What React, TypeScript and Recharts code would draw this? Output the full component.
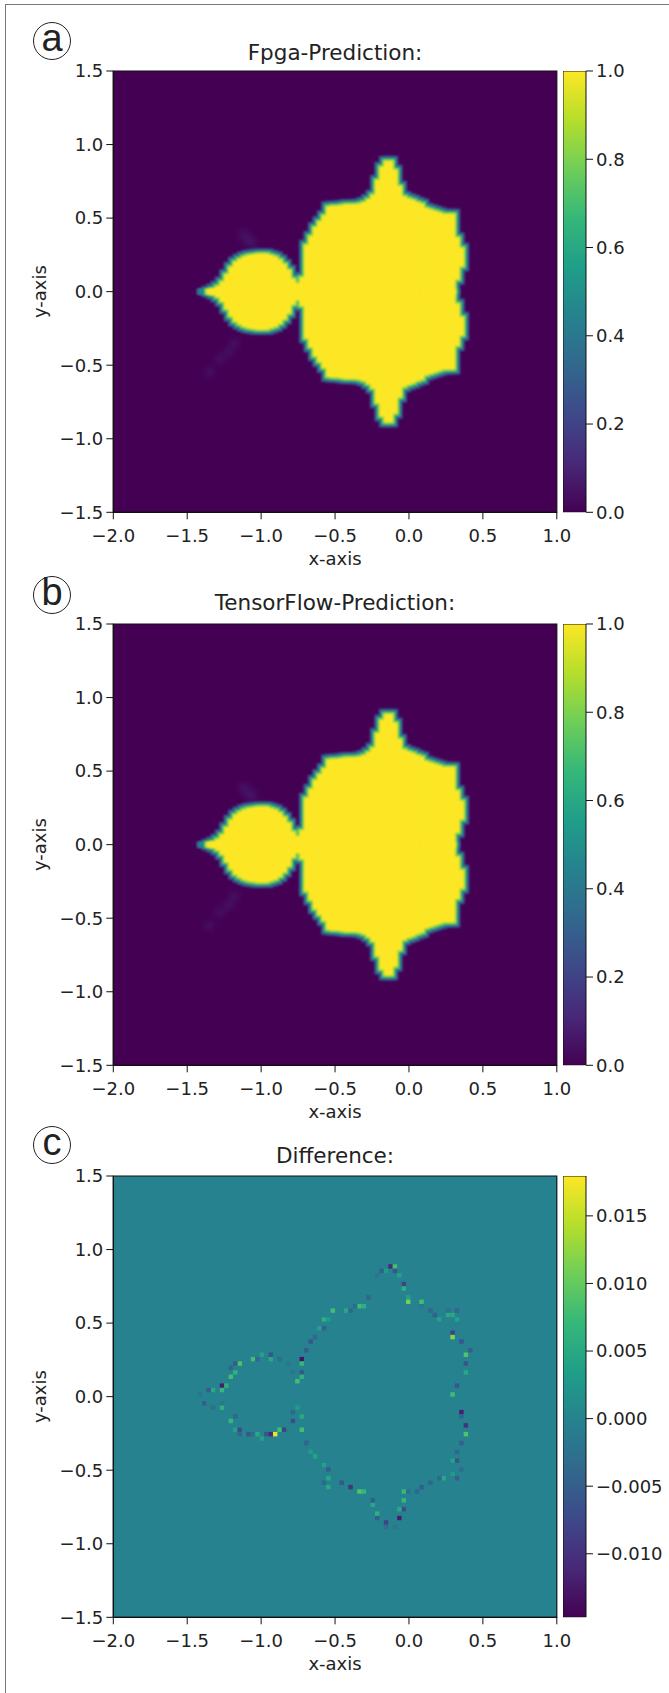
import React from 'react';
import { Bar, BarChart, CartesianGrid, ComposedChart, ReferenceArea, Scatter, XAxis, YAxis } from 'recharts';

const xTicks = [-2, -1.5, -1, -0.5, 0, 0.5, 1];
const yTicks = [-1.5, -1, -0.5, 0, 0.5, 1, 1.5];
const predTicks = [0, 0.2, 0.4, 0.6, 0.8, 1];
const diffTicks = [-0.01, -0.005, 0, 0.005, 0.01, 0.015];
const predDomain = [0, 1];
const diffDomain = [-0.0147, 0.01795];

// column centres of the set, and its upper edge
const colX = [-1.385, -1.355, -1.325, -1.295, -1.265, -1.235, -1.205, -1.175, -1.145, -1.115, -1.085, -1.055, -1.025, -0.995, -0.965, -0.935, -0.905, -0.875, -0.845, -0.815, -0.785, -0.755, -0.725, -0.695, -0.665, -0.635, -0.605, -0.575, -0.545, -0.515, -0.485, -0.455, -0.425, -0.395, -0.365, -0.335, -0.305, -0.275, -0.245, -0.215, -0.185, -0.155, -0.125, -0.095, -0.065, -0.035, -0.005, 0.025, 0.055, 0.085, 0.115, 0.145, 0.175, 0.205, 0.235, 0.265, 0.295, 0.325, 0.355];
const colTop = [-0.012, 0.006, 0.02, 0.04, 0.07, 0.12, 0.17, 0.205, 0.225, 0.24, 0.25, 0.255, 0.26, 0.26, 0.26, 0.25, 0.24, 0.22, 0.19, 0.15, 0.09, 0.06, 0.1, 0.32, 0.38, 0.44, 0.48, 0.52, 0.58, 0.585, 0.585, 0.59, 0.595, 0.595, 0.595, 0.6, 0.61, 0.63, 0.66, 0.76, 0.85, 0.89, 0.89, 0.83, 0.72, 0.65, 0.635, 0.625, 0.61, 0.6, 0.57, 0.56, 0.55, 0.54, 0.53, 0.53, 0.53, 0.37, 0.3];
// the notch at the right side of the set
const colGap = [0.08, 0.17];

const hazeX = [-1.09, -1.12, -1.06, -1.18, -1.22, -1.28, -1.35];
const hazeY = [0.35, 0.39, 0.33, -0.35, -0.41, -0.46, -0.55];

const diffX = [-1.147, -1.057, -1.021, -0.94, -0.94, -0.998, -0.881, -0.728, -0.728, -0.728, -0.759, -0.728, -0.791, -0.818, -1.183, -1.21, -1.183, -1.21, -1.269, -1.237, -1.269, -1.328, -1.357, -1.413, -1.386, -1.328, -1.269, -1.269, -1.21, -1.179, -1.179, -1.147, -1.147, -1.089, -1.057, -1.03, -0.998, -0.971, -0.94, -0.908, -0.881, -0.85, -0.791, -0.791, -0.759, -0.728, -0.728, -0.701, -0.669, -0.637, -0.7, -0.673, -0.642, -0.61, -0.583, -0.578, -0.551, -0.515, -0.432, -0.398, -0.342, -0.308, -0.371, -0.274, -0.218, -0.191, -0.154, -0.127, -0.1, -0.1, -0.073, -0.042, -0.042, -0.01, -0.01, 0.08, 0.08, 0.139, 0.17, 0.206, 0.256, 0.256, 0.288, 0.315, 0.315, 0.288, 0.288, 0.346, 0.378, 0.41, 0.378, 0.378, 0.315, 0.288, 0.346, 0.346, 0.378, 0.378, 0.346, 0.315, 0.315, 0.288, 0.346, 0.315, 0.288, 0.229, 0.197, 0.132, 0.085, 0.053, -0.01, -0.042, -0.042, -0.042, -0.073, -0.073, -0.1, -0.159, -0.159, -0.218, -0.213, -0.245, -0.251, -0.308, -0.342, -0.398, -0.461, -0.551, -0.578, -0.551, -0.551, -0.583, -0.642, -0.696];
const diffY = [0.224, 0.256, 0.256, 0.292, 0.256, 0.287, 0.256, 0.256, 0.224, 0.169, 0.106, 0.133, 0.169, 0.224, 0.224, 0.197, 0.169, 0.138, 0.081, 0.081, 0.047, 0.047, 0.047, 0.002, -0.039, -0.066, -0.039, -0.089, -0.157, -0.13, -0.22, -0.22, -0.257, -0.257, -0.257, -0.257, -0.284, -0.257, -0.257, -0.257, -0.22, -0.22, -0.157, -0.103, -0.076, -0.13, -0.22, -0.315, -0.379, -0.411, 0.319, 0.383, 0.41, 0.466, 0.466, 0.519, 0.523, 0.587, 0.587, 0.587, 0.614, 0.614, 0.618, 0.682, 0.829, 0.84, 0.852, 0.89, 0.89, 0.858, 0.829, 0.772, 0.738, 0.682, 0.648, 0.648, 0.618, 0.587, 0.55, 0.523, 0.587, 0.55, 0.55, 0.587, 0.523, 0.444, 0.405, 0.383, 0.292, 0.319, 0.224, 0.172, 0.081, 0.02, -0.103, -0.134, -0.193, -0.252, -0.311, -0.372, -0.429, -0.429, -0.497, -0.553, -0.52, -0.553, -0.553, -0.588, -0.615, -0.644, -0.644, -0.644, -0.712, -0.764, -0.764, -0.826, -0.887, -0.882, -0.855, -0.826, -0.792, -0.735, -0.701, -0.644, -0.644, -0.615, -0.583, -0.61, -0.587, -0.553, -0.497, -0.463, -0.406, -0.311];
const diffV = [0.009, 0.008, -0.004, -0.006, 0.005, 0.004, -0.003, -0.013, 0.007, -0.006, 0.008, 0.006, -0.002, -0.002, -0.005, -0.004, 0.006, 0.008, -0.012, 0.006, 0.007, 0.005, -0.005, -0.002, -0.005, -0.003, -0.002, 0.006, 0.007, -0.004, 0.004, -0.007, -0.004, -0.006, -0.003, 0.005, 0.004, -0.006, -0.011, 0.017, 0.008, -0.008, -0.007, -0.004, 0.003, 0.005, 0.008, -0.004, 0.003, 0.004, -0.005, -0.006, -0.004, 0.004, -0.005, 0.006, 0.003, 0.008, 0.005, -0.004, 0.008, 0.006, -0.003, -0.004, -0.002, -0.005, 0.003, -0.011, 0.008, -0.006, 0.004, -0.008, 0.006, 0.004, 0.011, 0.008, -0.002, -0.004, -0.005, 0.004, -0.003, 0.005, 0.005, -0.004, 0.004, -0.008, 0.012, -0.006, 0.009, -0.005, -0.006, 0.005, -0.006, 0.008, -0.012, -0.004, -0.01, 0.009, -0.005, -0.004, -0.006, 0.004, -0.003, -0.005, 0.003, 0.005, -0.004, -0.004, -0.005, -0.004, -0.003, 0.007, 0.007, -0.007, 0.005, -0.012, -0.002, -0.003, -0.008, -0.005, 0.006, 0.005, -0.005, 0.007, 0.009, -0.01, -0.006, 0.005, -0.004, 0.005, -0.005, 0.004, 0.004, -0.004];

const viridis = ['#440154', '#482878', '#3e4989', '#31688e', '#26828e', '#1f9e89', '#35b779', '#6ece58', '#b5de2b', '#fde725'];

// soft rim of the set, outermost first
const rims = [
  { grow: 0.034, color: '#3e4989' },
  { grow: 0.024, color: '#26828e' },
  { grow: 0.012, color: '#6ece58' },
  { grow: 0, color: '#fde725' },
];

const PLOT_LEFT = 113.3;
const PLOT_W = 443.5;
const PLOT_H = 441.3;
const CELL = PLOT_W / 100;
const PANEL_H = 570;
const PAD = 20;
const PX_PER_UNIT = PLOT_W / 3;

const textColor = '#222';
const axisFont = 'DejaVu Sans, sans-serif';
const AXIS_SIZE = 18;

const columns = colX.map((x, i) => ({ x, top: colTop[i], gap: i >= colX.length - colGap.length ? colGap[i - (colX.length - colGap.length)] : -0.02 }));
const haze = hazeX.map((x, i) => ({ x, y: hazeY[i] }));
const snap = (v: number) => Math.round((v + 1.985) / 0.03) * 0.03 - 1.985;
const snapY = (v: number) => Math.round((v + 1.485) / 0.03) * 0.03 - 1.485;
const diffCells = diffX.map((x, i) => ({ x: snap(x), y: snapY(diffY[i]), v: diffV[i] }));

const mix = (a: string, b: string, t: number) => {
  const c = (s: string, k: number) => parseInt(s.slice(1 + k * 2, 3 + k * 2), 16);
  return `rgb(${[0, 1, 2].map((k) => Math.round(c(a, k) + (c(b, k) - c(a, k)) * t)).join(',')})`;
};
const viridisAt = (t: number) => {
  const p = Math.max(0, Math.min(0.9999, t)) * (viridis.length - 1);
  const i = Math.floor(p);
  return mix(viridis[i], viridis[i + 1], p - i);
};
const diffColor = (v: number) => viridisAt((v - diffDomain[0]) / (diffDomain[1] - diffDomain[0]));

const fmt = (digits: number) => (v: number) => v.toFixed(digits).replace('-', '\u2212');

const HazeCell = ({ cx, cy }: any) => <rect x={cx - CELL} y={cy - CELL} width={CELL * 2} height={CELL * 2} fill="#482878" opacity={0.45} />;
const DiffCell = ({ cx, cy, payload }: any) => <rect x={cx - CELL / 2} y={cy - CELL / 2} width={CELL} height={CELL} fill={diffColor(payload.v)} />;

// recharts caps barSize at the band, so the column is widened here
const RimColumn = ({ x, y, width, height, fill, size }: any) => (
  <rect x={x + width / 2 - size / 2} y={y} width={size} height={height} fill={fill} />
);

const rimBars = () =>
  rims.flatMap((rim, r) =>
    ['up', 'down'].map((half) => {
      const id = `${half}${r}`;
      const size = CELL + 0.6 + 2 * rim.grow * PX_PER_UNIT;
      const value = (d: any) => {
        const edge = d.top + rim.grow;
        const low = d.gap - (d.gap > 0 ? rim.grow : 0);
        if (edge <= 0) return null;
        return half === 'up' ? [low, edge] : [-edge, -low];
      };
      return [
        <XAxis key={`a${id}`} xAxisId={id} type="number" dataKey="x" domain={[-2, 1]} hide allowDataOverflow />,
        <Bar key={`b${id}`} xAxisId={id} dataKey={value} fill={rim.color} shape={<RimColumn size={size} />} isAnimationActive={false} />,
      ];
    })
  );

const Panel = ({ top, bg, kind }: { top: number; bg: string; kind: 'pred' | 'diff' }) => (
  <div className={kind} style={{ position: 'absolute', left: 0, top: top - PAD, width: 669, height: PANEL_H }}>
    <ComposedChart width={669} height={PANEL_H} data={columns} margin={{ top: PAD, right: 669 - PLOT_LEFT - PLOT_W, bottom: PANEL_H - PAD - PLOT_H - 53, left: PLOT_LEFT - 80 }} barGap={0}>
      <CartesianGrid horizontal={false} vertical={false} fill={bg} />
      <XAxis
        type="number"
        dataKey="x"
        domain={[-2, 1]}
        ticks={xTicks}
        interval={0}
        tickFormatter={fmt(1)}
        allowDataOverflow
        height={53}
        tickSize={7}
        tickMargin={10}
        stroke="#111"
        tick={{ fill: textColor, fontSize: AXIS_SIZE, fontFamily: axisFont }}
        label={{ value: 'x-axis', position: 'insideBottom', offset: 0, fill: textColor, fontSize: AXIS_SIZE, fontFamily: axisFont }}
      />
      <YAxis
        type="number"
        dataKey="y"
        domain={[-1.5, 1.5]}
        ticks={yTicks}
        interval={0}
        tickFormatter={fmt(1)}
        allowDataOverflow
        width={80}
        tickSize={7}
        tickMargin={3}
        stroke="#111"
        tick={{ fill: textColor, fontSize: AXIS_SIZE, fontFamily: axisFont }}
        label={{ value: 'y-axis', angle: -90, position: 'insideLeft', offset: 6, fill: textColor, fontSize: AXIS_SIZE, fontFamily: axisFont, style: { textAnchor: 'middle' } }}
      />
      {kind === 'pred' && <Scatter data={haze} shape={<HazeCell />} className="haze" isAnimationActive={false} />}
      {kind === 'pred' && rimBars()}
      {kind === 'diff' && <Scatter data={diffCells} shape={<DiffCell />} className="crisp" isAnimationActive={false} />}
      <ReferenceArea x1={-2} x2={1} y1={-1.5} y2={1.5} fill="none" stroke="#111" strokeWidth={1.2} />
    </ComposedChart>
  </div>
);

const ColorBar = ({ top, domain, ticks, digits, id }: { top: number; domain: number[]; ticks: number[]; digits: number; id: string }) => (
  <div style={{ position: 'absolute', left: 563, top: top - PAD, width: 106, height: PLOT_H + 2 * PAD }}>
    <BarChart width={106} height={PLOT_H + 2 * PAD} data={[{ name: 'scale', range: domain }]} margin={{ top: PAD, right: 0, bottom: PAD, left: 0 }} barCategoryGap={0}>
      <defs>
        <linearGradient id={id} x1="0" y1="1" x2="0" y2="0">
          {viridis.map((c, i) => (
            <stop key={c} offset={i / (viridis.length - 1)} stopColor={c} />
          ))}
        </linearGradient>
      </defs>
      <XAxis dataKey="name" hide />
      <YAxis
        orientation="right"
        type="number"
        domain={domain}
        ticks={ticks}
        interval={0}
        tickFormatter={fmt(digits)}
        allowDataOverflow
        width={83}
        tickSize={7}
        tickMargin={3}
        stroke="#111"
        axisLine={false}
        tick={{ fill: textColor, fontSize: AXIS_SIZE, fontFamily: axisFont }}
      />
      <Bar dataKey="range" fill={`url(#${id})`} stroke="#111" strokeWidth={1} isAnimationActive={false} />
    </BarChart>
  </div>
);

const Heading = ({ y, text }: { y: number; text: string }) => (
  <div style={{ position: 'absolute', left: PLOT_LEFT, width: PLOT_W, top: y, textAlign: 'center', fontFamily: axisFont, fontSize: 21.5, lineHeight: '24px', color: textColor }}>{text}</div>
);

const Badge = ({ y, letter }: { y: number; letter: string }) => (
  <div style={{ position: 'absolute', left: 33, top: y - 19, width: 36, height: 36, border: '1.2px solid #222', borderRadius: '50%', textAlign: 'center', fontFamily: 'Liberation Sans, sans-serif', fontSize: 38, lineHeight: '31px', color: '#222' }}>{letter}</div>
);

export default function App() {
  return (
    <div style={{ position: 'absolute', left: 0, top: 0, width: 669, height: 1693, background: '#fff', overflow: 'hidden' }}>
      <style>{`.pred .recharts-bar{filter:blur(1.2px)}.haze{filter:blur(3px)}.crisp{filter:blur(.55px)}`}</style>
      <div style={{ position: 'absolute', left: 5, top: 4, width: 700, height: 1720, border: '1.6px solid #777' }} />
      <Panel top={71.2} bg="#440154" kind="pred" />
      <Panel top={623.8} bg="#440154" kind="pred" />
      <Panel top={1176.2} bg="#26828e" kind="diff" />
      <ColorBar top={71.2} domain={predDomain} ticks={predTicks} digits={1} id="cbA" />
      <ColorBar top={623.8} domain={predDomain} ticks={predTicks} digits={1} id="cbB" />
      <ColorBar top={1176.2} domain={diffDomain} ticks={diffTicks} digits={3} id="cbC" />
      <Heading y={41} text="Fpga-Prediction:" />
      <Heading y={591} text="TensorFlow-Prediction:" />
      <Heading y={1144} text="Difference:" />
      <Badge y={41} letter="a" />
      <Badge y={595} letter="b" />
      <Badge y={1145} letter="c" />
    </div>
  );
}
